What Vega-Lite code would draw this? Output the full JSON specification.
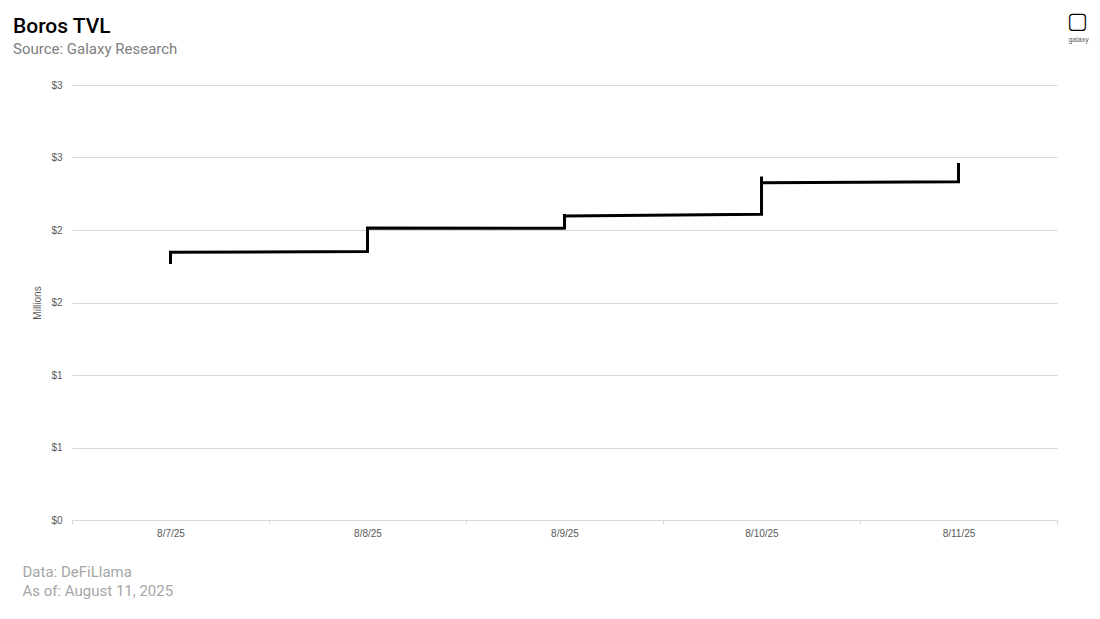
{
  "$schema": "https://vega.github.io/schema/vega-lite/v6.json",
  "width": 985,
  "height": 435,
  "autosize": {"type": "none"},
  "padding": {"left": 72, "top": 85, "right": 43, "bottom": 99},
  "background": "white",
  "config": {"view": {"stroke": null}},
  "title": {
    "text": "Boros TVL",
    "subtitle": "Source: Galaxy Research",
    "anchor": "start",
    "frame": "group",
    "dx": -59,
    "font": "Roboto",
    "fontSize": 21,
    "fontWeight": 500,
    "color": "#000000",
    "subtitleFont": "Roboto",
    "subtitleFontSize": 15,
    "subtitleColor": "#808080",
    "subtitlePadding": 5,
    "offset": -48
  },
  "data": {
    "values": [
      {"seq": 0, "date": "2025-08-07", "tvl": 1.766},
      {"seq": 1, "date": "2025-08-07", "tvl": 1.846},
      {"seq": 2, "date": "2025-08-08", "tvl": 1.852},
      {"seq": 3, "date": "2025-08-08", "tvl": 2.013},
      {"seq": 4, "date": "2025-08-09", "tvl": 2.012},
      {"seq": 5, "date": "2025-08-09", "tvl": 2.003},
      {"seq": 6, "date": "2025-08-09", "tvl": 2.110},
      {"seq": 7, "date": "2025-08-09", "tvl": 2.097},
      {"seq": 8, "date": "2025-08-10", "tvl": 2.108},
      {"seq": 9, "date": "2025-08-10", "tvl": 2.369},
      {"seq": 10, "date": "2025-08-10", "tvl": 2.326},
      {"seq": 11, "date": "2025-08-11", "tvl": 2.333},
      {"seq": 12, "date": "2025-08-11", "tvl": 2.462}
    ]
  },
  "layer": [
    {
      "mark": {"type": "line", "color": "#000000", "strokeWidth": 3, "strokeJoin": "miter", "strokeCap": "butt"},
      "encoding": {
        "x": {
          "field": "date",
          "type": "temporal",
          "scale": {
            "type": "utc",
            "domain": [
              {"year": 2025, "month": 8, "date": 6, "hours": 12, "utc": true},
              {"year": 2025, "month": 8, "date": 11, "hours": 12, "utc": true}
            ]
          },
          "axis": {
            "orient": "bottom",
            "values": [
              {"year": 2025, "month": 8, "date": 6, "hours": 12, "utc": true},
              {"year": 2025, "month": 8, "date": 7, "hours": 12, "utc": true},
              {"year": 2025, "month": 8, "date": 8, "hours": 12, "utc": true},
              {"year": 2025, "month": 8, "date": 9, "hours": 12, "utc": true},
              {"year": 2025, "month": 8, "date": 10, "hours": 12, "utc": true},
              {"year": 2025, "month": 8, "date": 11, "hours": 12, "utc": true}
            ],
            "labelExpr": "utcdate(datum.value) == 11 ? '' : utcFormat(datum.value + 43200000, '%-m/%-d/%y')",
            "labelOffset": 98.5,
            "labelFlush": false,
            "labelOverlap": false,
            "labelBound": false,
            "labelFont": "Liberation Sans",
            "labelFontSize": 10,
            "labelColor": "#595959",
            "labelPadding": 4,
            "ticks": true,
            "tickSize": 4,
            "tickColor": "#d9d9d9",
            "domain": true,
            "domainColor": "#d9d9d9",
            "grid": false,
            "title": ["Data: DeFiLlama", "As of: August 11, 2025"],
            "titleFont": "Roboto",
            "titleFontSize": 15,
            "titleFontWeight": "normal",
            "titleColor": "#a6a6a6",
            "titleAlign": "left",
            "titleBaseline": "top",
            "titleLineHeight": 19,
            "titleX": -50,
            "titleY": 44
          }
        },
        "y": {
          "field": "tvl",
          "type": "quantitative",
          "scale": {"domain": [0, 3], "nice": false},
          "axis": {
            "orient": "left",
            "values": [0, 0.5, 1, 1.5, 2, 2.5, 3],
            "format": "$.0f",
            "labelFont": "Liberation Sans",
            "labelFontSize": 10,
            "labelColor": "#595959",
            "labelPadding": 10,
            "ticks": false,
            "domain": false,
            "grid": true,
            "gridColor": "#d9d9d9",
            "gridWidth": 1,
            "title": "Millions",
            "titleFont": "Liberation Sans",
            "titleFontSize": 10,
            "titleFontWeight": "normal",
            "titleColor": "#595959",
            "titlePadding": 8
          }
        },
        "order": {"field": "seq", "type": "quantitative"}
      }
    },
    {
      "mark": {"type": "point", "opacity": 0},
      "encoding": {
        "x": {
          "field": "date",
          "type": "temporal",
          "axis": {
            "orient": "top",
            "labels": false,
            "ticks": false,
            "domain": false,
            "grid": false,
            "title": "▢",
            "titleFont": "DejaVu Sans",
            "titleFontSize": 22,
            "titleFontWeight": "bold",
            "titleColor": "#000000",
            "titleAlign": "center",
            "titleBaseline": "middle",
            "titleX": 1005,
            "titleY": -65
          }
        },
        "y": {
          "field": "tvl",
          "type": "quantitative",
          "axis": {
            "orient": "right",
            "labels": false,
            "ticks": false,
            "domain": false,
            "grid": false,
            "title": "galaxy",
            "titleFont": "Liberation Sans",
            "titleFontSize": 7,
            "titleFontWeight": "normal",
            "titleColor": "#595959",
            "titleAngle": 0,
            "titleAlign": "center",
            "titleBaseline": "middle",
            "titleX": 21,
            "titleY": -46
          }
        }
      }
    }
  ],
  "resolve": {"axis": {"x": "independent", "y": "independent"}}
}
